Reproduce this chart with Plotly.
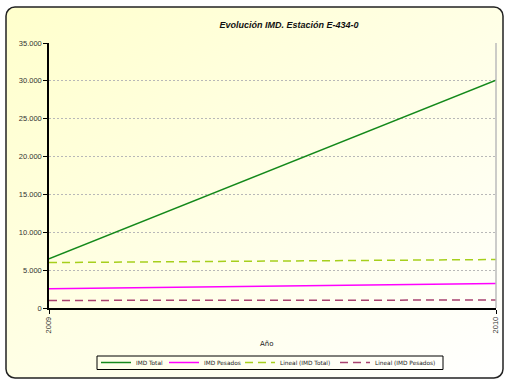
import base64
import plotly.graph_objects as go

years = [2009, 2010]
year_labels = ["2009", "2010"]
imd_total = [6500, 30100]
imd_pesados = [2550, 3250]
lineal_total = [6000, 6400]
lineal_pesados = [1000, 1050]
y_ticks = [0, 5000, 10000, 15000, 20000, 25000, 30000, 35000]

W, H = 505, 381
L, R, T, B = 49, 9, 43, 73
PW, PH = W - L - R, H - T - B

def px_x(v):
    return (v - L) / PW

def px_y(v):
    return (H - B - v) / PH

svg = f'''<svg xmlns="http://www.w3.org/2000/svg" width="{W}" height="{H}" viewBox="0 0 {W} {H}">
<defs><linearGradient id="g" x1="0" y1="0" x2="1" y2="1">
<stop offset="0" stop-color="#FFFFCC"/><stop offset="1" stop-color="#FFFFFF"/></linearGradient></defs>
<rect x="6" y="7" width="497" height="371" rx="9" ry="9" fill="url(#g)" stroke="#222222" stroke-width="1.5"/>
</svg>'''
src = "data:image/svg+xml;base64," + base64.b64encode(svg.encode()).decode()

fig = go.Figure()
fig.add_trace(go.Scatter(x=years, y=imd_total, mode="lines", name="IMD Total",
                         line=dict(color="#14891B", width=1.5), legendwidth=23))
fig.add_trace(go.Scatter(x=years, y=imd_pesados, mode="lines", name="IMD Pesados",
                         line=dict(color="#FF00FF", width=1.5), legendwidth=31))
fig.add_trace(go.Scatter(x=years, y=lineal_total, mode="lines", name="Lineal (IMD Total)",
                         line=dict(color="#A6CF1C", width=1.5, dash="8px,5px"), legendwidth=50))
fig.add_trace(go.Scatter(x=years, y=lineal_pesados, mode="lines", name="Lineal (IMD Pesados)",
                         line=dict(color="#A8426F", width=1.5, dash="8px,5px"), legendwidth=60))

fig.update_layout(
    width=W, height=H,
    margin=dict(l=L, r=R, t=T, b=B, pad=0, autoexpand=False),
    paper_bgcolor="rgba(0,0,0,0)",
    plot_bgcolor="rgba(0,0,0,0)",
    separators=",.",
    showlegend=True,
    title=dict(text="<b><i>Evolución IMD. Estación E-434-0</i></b>",
               font=dict(family="Liberation Sans, Arial", size=9, color="#111111"),
               x=289 / W, xref="container", xanchor="center",
               y=1 - 24.5 / H, yref="container", yanchor="middle"),
    legend=dict(orientation="h", xref="container", yref="container",
                x=268 / W, y=1 - 362.5 / H,
                xanchor="center", yanchor="middle",
                borderwidth=0, bgcolor="rgba(0,0,0,0)",
                font=dict(family="DejaVu Sans", size=5.8, color="#222222"),
                itemwidth=30, tracegroupgap=0),
    images=[dict(source=src, xref="paper", yref="paper",
                 x=-L / PW, y=1 + T / PH, sizex=W / PW, sizey=H / PH,
                 sizing="stretch", xanchor="left", yanchor="top", layer="below")],
    annotations=[dict(text="Año", xref="paper", yref="paper",
                      x=px_x(267), y=px_y(344), showarrow=False,
                      xanchor="center", yanchor="middle",
                      font=dict(family="DejaVu Sans", size=7, color="#222222"))],
    shapes=[dict(type="line", xref="paper", yref="paper", x0=1, x1=1, y0=0, y1=1,
                 line=dict(color="#BBBBBB", width=1.5)),
            dict(type="rect", xref="paper", yref="paper",
                 x0=px_x(97), x1=px_x(443), y0=px_y(356), y1=px_y(369.5),
                 line=dict(color="#000000", width=1), fillcolor="rgba(0,0,0,0)")],
)

fig.update_xaxes(range=[2009, 2010], tickvals=years, ticktext=year_labels,
                 tickangle=-90, ticks="outside", ticklen=4, tickcolor="#000000",
                 showline=True, linecolor="#000000", linewidth=1.5,
                 showgrid=False, zeroline=False,
                 tickfont=dict(family="Liberation Sans, Arial", size=7.5, color="#333333"))
fig.update_yaxes(range=[0, 35000], tickvals=y_ticks, tickformat=",d",
                 ticks="outside", ticklen=4, tickcolor="#000000",
                 showline=True, linecolor="#000000", linewidth=1.5,
                 showgrid=True, gridcolor="#B8B8B8", griddash="2px,2px", gridwidth=1,
                 zeroline=False,
                 tickfont=dict(family="Liberation Sans, Arial", size=7.5, color="#333333"))

fig.write_html("out.html", config={"displayModeBar": False},
               post_script="document.body.style.margin='0';document.body.style.overflow='hidden';")
